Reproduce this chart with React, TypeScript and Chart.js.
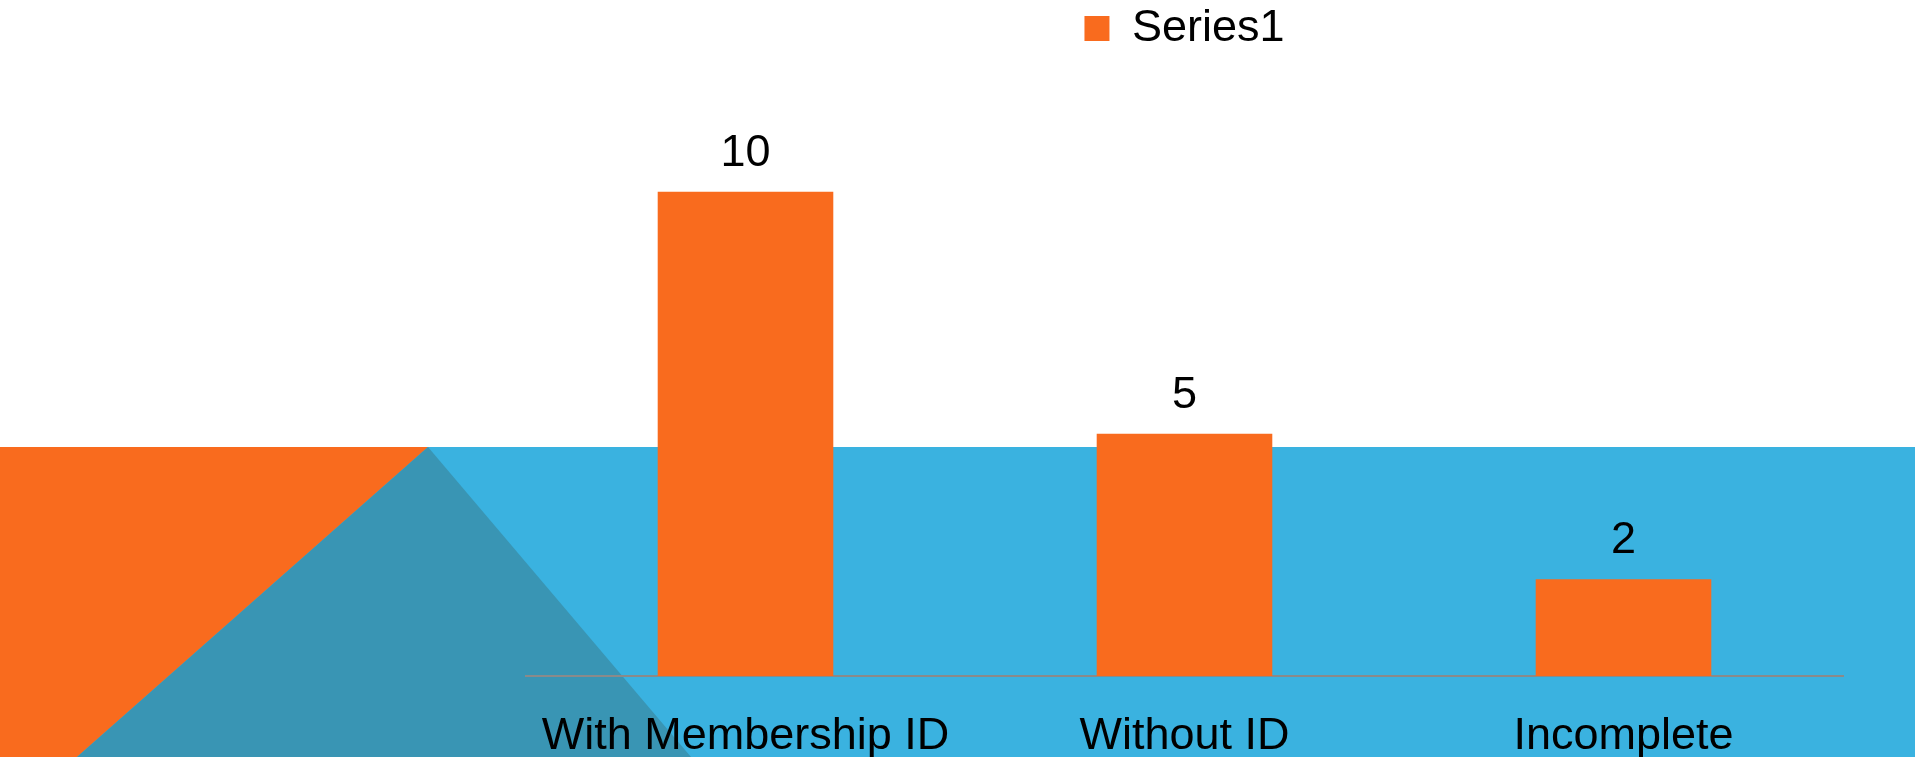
import React, { useEffect, useRef } from "react";
import { Chart, registerables } from "chart.js";

Chart.register(...registerables);

const categories = ["With Membership ID", "Without ID", "Incomplete"];
const seriesName = "Series1";
const seriesValues = [10, 5, 2];

const ORANGE = "#F96B1E";
const BLUE = "#3AB2E0";
const TEAL = "#3995B4";
const FONT = "'Liberation Sans', Arial, sans-serif";

const backgroundPlugin = {
  id: "slideBackground",
  beforeDraw(chart: any) {
    const { ctx, width, height } = chart;
    ctx.save();
    ctx.fillStyle = "#FFFFFF";
    ctx.fillRect(0, 0, width, height);
    const bandTop = 447;
    ctx.fillStyle = BLUE;
    ctx.fillRect(0, bandTop, width, height - bandTop);
    ctx.fillStyle = ORANGE;
    ctx.beginPath();
    ctx.moveTo(0, bandTop);
    ctx.lineTo(428, bandTop);
    ctx.lineTo(77, height);
    ctx.lineTo(0, height);
    ctx.closePath();
    ctx.fill();
    ctx.fillStyle = TEAL;
    ctx.beginPath();
    ctx.moveTo(77, height);
    ctx.lineTo(428, bandTop);
    ctx.lineTo(691, height);
    ctx.closePath();
    ctx.fill();
    ctx.restore();
  },
};

const valueLabelPlugin = {
  id: "valueLabels",
  afterDatasetsDraw(chart: any) {
    const { ctx } = chart;
    const meta = chart.getDatasetMeta(0);
    const data = chart.data.datasets[0].data;
    ctx.save();
    ctx.font = `45px ${FONT}`;
    ctx.fillStyle = "#000000";
    ctx.textAlign = "center";
    ctx.textBaseline = "alphabetic";
    meta.data.forEach((bar: any, i: number) => {
      ctx.fillText(String(data[i]), bar.x, bar.y - 26);
    });
    ctx.restore();
  },
};

export default function App() {
  const canvasRef = useRef<HTMLCanvasElement | null>(null);

  useEffect(() => {
    document.body.style.margin = "0";
    const canvas = canvasRef.current;
    if (!canvas) return;
    const chart = new Chart(canvas, {
      type: "bar",
      data: {
        labels: categories,
        datasets: [
          {
            label: seriesName,
            data: seriesValues,
            backgroundColor: ORANGE,
            borderWidth: 0,
            barPercentage: 0.4,
            categoryPercentage: 1,
          },
        ],
      },
      options: {
        animation: false,
        responsive: false,
        maintainAspectRatio: false,
        layout: { padding: { left: 526, right: 72, top: 0, bottom: 0 } },
        plugins: {
          legend: {
            display: true,
            position: "top",
            labels: {
              boxWidth: 25,
              boxHeight: 25,
              color: "#000000",
              font: { family: FONT, size: 45 },
              padding: 6,
            },
          },
          tooltip: { enabled: false },
        },
        scales: {
          x: {
            grid: { display: false },
            border: { display: true, color: "#8A8A8A", width: 2 },
            ticks: {
              color: "#000000",
              font: { family: FONT, size: 45 },
              padding: 26,
              maxRotation: 0,
              autoSkip: false,
            },
            afterFit(scale: any) {
              scale.height = 81;
            },
          },
          y: {
            display: false,
            min: 0,
            max: 12.7,
          },
        },
      },
      plugins: [backgroundPlugin, valueLabelPlugin],
    });
    return () => chart.destroy();
  }, []);

  return (
    <div style={{ width: 1915, height: 757 }}>
      <canvas ref={canvasRef} width={1915} height={757} style={{ display: "block", width: 1915, height: 757 }} />
    </div>
  );
}
